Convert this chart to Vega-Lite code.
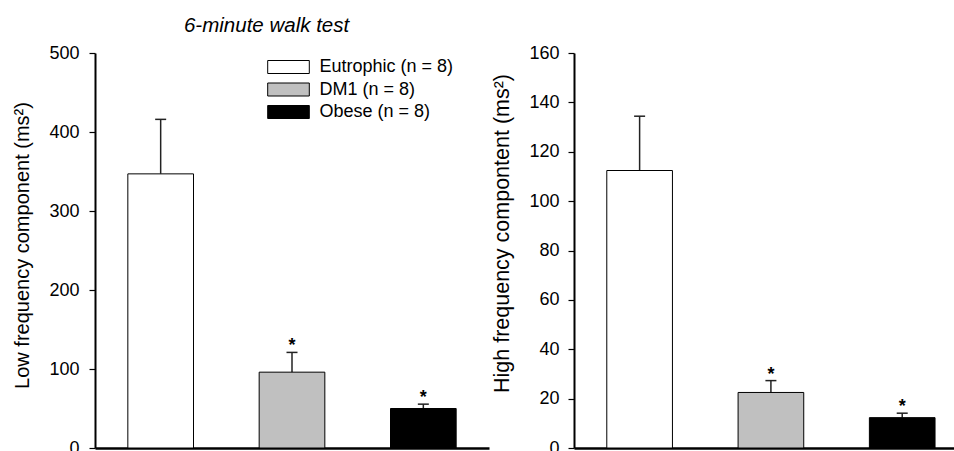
{
  "$schema": "https://vega.github.io/schema/vega-lite/v6.json",
  "padding": {"left": 12, "top": 15, "right": 0, "bottom": 0},
  "title": {"text": "6-minute walk test", "anchor": "start", "dx": 171, "fontSize": 20.5, "fontStyle": "italic", "fontWeight": "normal", "font": "Liberation Sans", "color": "black", "offset": 8},
  "config": {
    "font": "Liberation Sans",
    "view": {"stroke": null},
    "axis": {"grid": false, "domainColor": "black", "tickColor": "black", "labelColor": "black", "titleColor": "black", "labelFont": "Liberation Sans", "titleFont": "Liberation Sans"}
  },
  "datasets": {
    "d": [
      {"panel": "LF", "group": "Eutrophic (n = 8)", "mean": 347, "err": 416, "sig": ""},
      {"panel": "LF", "group": "DM1 (n = 8)", "mean": 96, "err": 121, "sig": "*"},
      {"panel": "LF", "group": "Obese (n = 8)", "mean": 50, "err": 55.5, "sig": "*"},
      {"panel": "HF", "group": "Eutrophic (n = 8)", "mean": 112.4, "err": 134.4, "sig": ""},
      {"panel": "HF", "group": "DM1 (n = 8)", "mean": 22.5, "err": 27.3, "sig": "*"},
      {"panel": "HF", "group": "Obese (n = 8)", "mean": 12.3, "err": 14.1, "sig": "*"}
    ]
  },
  "spacing": 2,
  "hconcat": [
    {
      "width": 394,
      "height": 395,
      "data": {"name": "d"},
      "transform": [{"filter": "datum.panel === 'LF'"}],
      "encoding": {
        "x": {"field": "group", "type": "nominal", "sort": null, "scale": {"paddingInner": 0.5, "paddingOuter": 0.25}, "axis": {"title": null, "labels": false, "ticks": false, "domainWidth": 2.5}}
      },
      "layer": [
        {"mark": {"type": "rule", "stroke": "#222", "strokeWidth": 1.5}, "encoding": {"y": {"field": "mean", "type": "quantitative"}, "y2": {"field": "err"}}},
        {"mark": {"type": "tick", "size": 11, "thickness": 1.5, "color": "#222", "opacity": 1}, "encoding": {"y": {"field": "err", "type": "quantitative"}}},
        {
          "mark": {"type": "bar", "stroke": "black", "strokeWidth": 1, "opacity": 1},
          "encoding": {
            "y": {"field": "mean", "type": "quantitative", "scale": {"domain": [0, 500], "nice": false},
              "axis": {"title": "Low frequency component (ms²)", "titleFontSize": 20, "titleFontWeight": "normal", "titlePadding": 16, "titleY": 192, "labelFontSize": 18, "labelPadding": 10, "tickSize": 6, "tickWidth": 1.2, "domainWidth": 2, "values": [0, 50, 100, 150, 200, 250, 300, 350, 400, 450, 500], "labelExpr": "datum.value % 100 === 0 ? datum.label : ''"}},
            "fill": {"field": "group", "type": "nominal", "sort": null,
              "scale": {"domain": ["Eutrophic (n = 8)", "DM1 (n = 8)", "Obese (n = 8)"], "range": ["white", "#c0c0c0", "black"]},
              "legend": {"orient": "none", "legendX": 184.5, "legendY": 5, "title": null, "padding": 0, "symbolType": "M-3.2,-1H3.2V1H-3.2Z", "symbolSize": 169, "symbolStrokeColor": "black", "symbolStrokeWidth": 1, "symbolOpacity": 1, "labelFontSize": 18, "labelColor": "black", "labelOffset": 22, "rowPadding": 4.5}}
          }
        },
        {"mark": {"type": "text", "dy": -1, "baseline": "alphabetic", "fontSize": 18, "fontWeight": "bold", "color": "black"}, "encoding": {"y": {"field": "err", "type": "quantitative"}, "text": {"field": "sig"}}}
      ]
    },
    {
      "width": 382,
      "height": 395,
      "data": {"name": "d"},
      "transform": [{"filter": "datum.panel === 'HF'"}],
      "encoding": {
        "x": {"field": "group", "type": "nominal", "sort": null, "scale": {"paddingInner": 0.5, "paddingOuter": 0.2047, "align": 0.61}, "axis": {"title": null, "labels": false, "ticks": false, "domainWidth": 2.5}}
      },
      "layer": [
        {"mark": {"type": "rule", "stroke": "#222", "strokeWidth": 1.5}, "encoding": {"y": {"field": "mean", "type": "quantitative"}, "y2": {"field": "err"}}},
        {"mark": {"type": "tick", "size": 11, "thickness": 1.5, "color": "#222", "opacity": 1}, "encoding": {"y": {"field": "err", "type": "quantitative"}}},
        {
          "mark": {"type": "bar", "stroke": "black", "strokeWidth": 1, "opacity": 1},
          "encoding": {
            "y": {"field": "mean", "type": "quantitative", "scale": {"domain": [0, 160], "nice": false},
              "axis": {"title": "High frequency compontent (ms²)", "titleFontSize": 21.5, "titleFontWeight": "normal", "titlePadding": 15, "titleY": 180, "labelFontSize": 18, "labelPadding": 9, "tickSize": 6, "tickWidth": 1.2, "domainWidth": 2, "values": [0, 10, 20, 30, 40, 50, 60, 70, 80, 90, 100, 110, 120, 130, 140, 150, 160], "labelExpr": "datum.value % 20 === 0 ? datum.label : ''"}},
            "fill": {"field": "group", "type": "nominal", "sort": null,
              "scale": {"domain": ["Eutrophic (n = 8)", "DM1 (n = 8)", "Obese (n = 8)"], "range": ["white", "#c0c0c0", "black"]},
              "legend": null}
          }
        },
        {"mark": {"type": "text", "dy": -1, "baseline": "alphabetic", "fontSize": 18, "fontWeight": "bold", "color": "black"}, "encoding": {"y": {"field": "err", "type": "quantitative"}, "text": {"field": "sig"}}}
      ]
    }
  ]
}
